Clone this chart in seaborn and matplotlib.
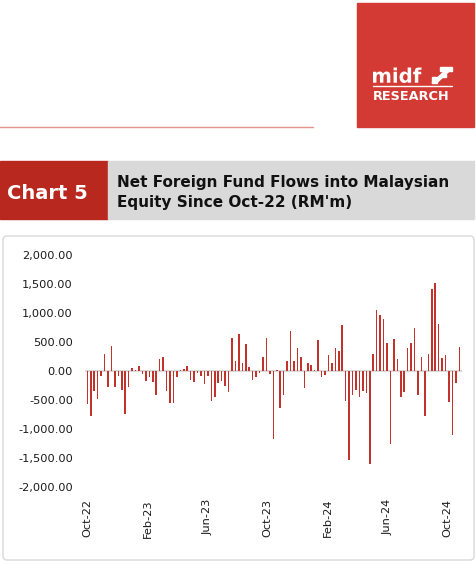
import numpy as np
import pandas as pd
import matplotlib
matplotlib.use("Agg")
import matplotlib.pyplot as plt
import seaborn as sns
from matplotlib.patches import Rectangle, FancyBboxPatch, Polygon, PathPatch
from matplotlib.lines import Line2D
from matplotlib.textpath import TextPath
from matplotlib.font_manager import FontProperties
from matplotlib.transforms import Affine2D
from matplotlib.ticker import FuncFormatter

# weekly net foreign fund flows (RM'm), weeks ending on Fridays
first_week = "2022-09-30"
flows = [
    -570, -770, -350, -490, -80, 300, -280, 430, -280, -90,
    -320, -740, -280, 60, 10, 80, -50, -180, -100, -190,
    -420, 200, 250, -350, -560, -550, -100, 10, 30, 80,
    -160, -190, -30, -90, -220, -80, -520, -450, -200, -170,
    -250, -370, 570, 180, 640, 140, 460, 70, -160, -110,
    -30, 240, 570, -60, -1170, 10, -630, -420, 170, 690,
    170, 390, 250, -290, 140, 110, 10, 530, -100, -70,
    280, 130, 400, 350, 790, -510, -1530, -420, -320, -440,
    -340, -380, -1610, 300, 1060, 970, 890, 480, -1250, 550,
    210, -450, -360, 400, 480, 750, -420, 250, -780, 300,
    1410, 1520, 810, 220, 280, -530, -1110, -200, 420,
]
tick_months = ["2022-10-01", "2023-02-01", "2023-06-01", "2023-10-01",
               "2024-02-01", "2024-06-01", "2024-10-01"]
tick_labels = ["Oct-22", "Feb-23", "Jun-23", "Oct-23", "Feb-24", "Jun-24", "Oct-24"]
y_ticks = [-2000, -1500, -1000, -500, 0, 500, 1000, 1500, 2000]

W, H = 477, 564
BAR_RED = "#C4332B"


def fx(px):
    return px / W


def fy(py):
    return 1 - py / H


def fig_rect(x0, y0, x1, y1, color):
    # rectangle given in picture pixels (top-left origin)
    fig.add_artist(Rectangle((fx(x0), fy(y1)), fx(x1 - x0), (y1 - y0) / H, color=color,
                             transform=fig.transFigure))


sns.set_style("white")
plt.rcParams["font.family"] = ["DejaVu Sans"]

fig = plt.figure(figsize=(W / 100, H / 100), dpi=100)
fig.patch.set_facecolor("white")

# logo block
fig_rect(357, 3, 474, 127, "#D23A33")
tp = TextPath((0, 0), "midf", size=1, prop=FontProperties(family="DejaVu Sans", weight="bold"))
bb = tp.get_extents()
logo_tf = (Affine2D().translate(-bb.x0, -bb.y0)
           .scale(48.5 / bb.width, 15.5 / bb.height)
           .translate(373, H - 83))
fig.add_artist(PathPatch(tp, color="white", lw=0, transform=logo_tf))
icon = [(432, 83), (436.5, 83), (452, 68.5), (447.5, 68.5)]
fig.add_artist(Polygon([(fx(x), fy(y)) for x, y in icon], closed=True, color="white",
                       transform=fig.transFigure))
fig_rect(440, 67.5, 452, 70.5, "white")
fig_rect(432, 77, 437, 83, "white")
fig_rect(441, 74, 446, 77, "white")
fig.add_artist(Line2D([fx(373), fx(452)], [fy(86), fy(86)], color="white", lw=1,
                      transform=fig.transFigure))
fig.text(fx(373), fy(100.3), "RESEARCH", color="white", fontsize=9.3, fontweight="bold",
         va="baseline")

# thin rule under header
fig.add_artist(Line2D([0, fx(313)], [fy(127), fy(127)], color="#E3958C", lw=1,
                      transform=fig.transFigure))

# title band
fig_rect(0, 161, 108, 219, "#B8281F")
fig_rect(108, 161, 474, 219, "#D9D9D9")
fig.text(fx(47.5), fy(199), "Chart 5", color="white", fontsize=14, fontweight="bold",
         ha="center", va="baseline")
fig.text(fx(117), fy(186.7), "Net Foreign Fund Flows into Malaysian", color="#111111",
         fontsize=11, fontweight="bold", va="baseline")
fig.text(fx(117), fy(207.5), "Equity Since Oct-22 (RM'm)", color="#111111",
         fontsize=11, fontweight="bold", va="baseline")

# chart frame
fig.add_artist(FancyBboxPatch((fx(3), fy(560)), fx(471), (560 - 236) / H,
                              boxstyle="round,pad=0,rounding_size=0.008",
                              edgecolor="#D9D9D9", facecolor="none", lw=1,
                              transform=fig.transFigure))

weeks = pd.date_range(first_week, periods=len(flows), freq="7D")
df = pd.DataFrame({"week": weeks, "flow": flows})

ax = fig.add_axes([fx(84.9), fy(487), (461.7 - 84.9) / W, 232 / H])
ax.patch.set_alpha(0)
sns.barplot(data=df, x="week", y="flow", color=BAR_RED, saturation=1, width=0.45,
            linewidth=0, errorbar=None, ax=ax)
ax.axhline(0, color="#D9D9D9", lw=1.5, zorder=0.5)

ax.set_ylim(-2000, 2000)
ax.set_yticks(y_ticks)
ax.yaxis.set_major_formatter(FuncFormatter(lambda v, p: f"{v:,.2f}"))

tick_pos = [(pd.Timestamp(m) - weeks[0]).days / 7 for m in tick_months]
ax.set_xlim(-0.7, len(flows) - 0.3)
ax.set_xticks(tick_pos)
ax.set_xticklabels(tick_labels, rotation=90)
ax.tick_params(length=0, pad=8.6, labelsize=8.2, labelcolor="#1a1a1a")
ax.set_xlabel("")
ax.set_ylabel("")
sns.despine(ax=ax, left=True, bottom=True)

fig.savefig("out.png", dpi=100)
plt.close(fig)
